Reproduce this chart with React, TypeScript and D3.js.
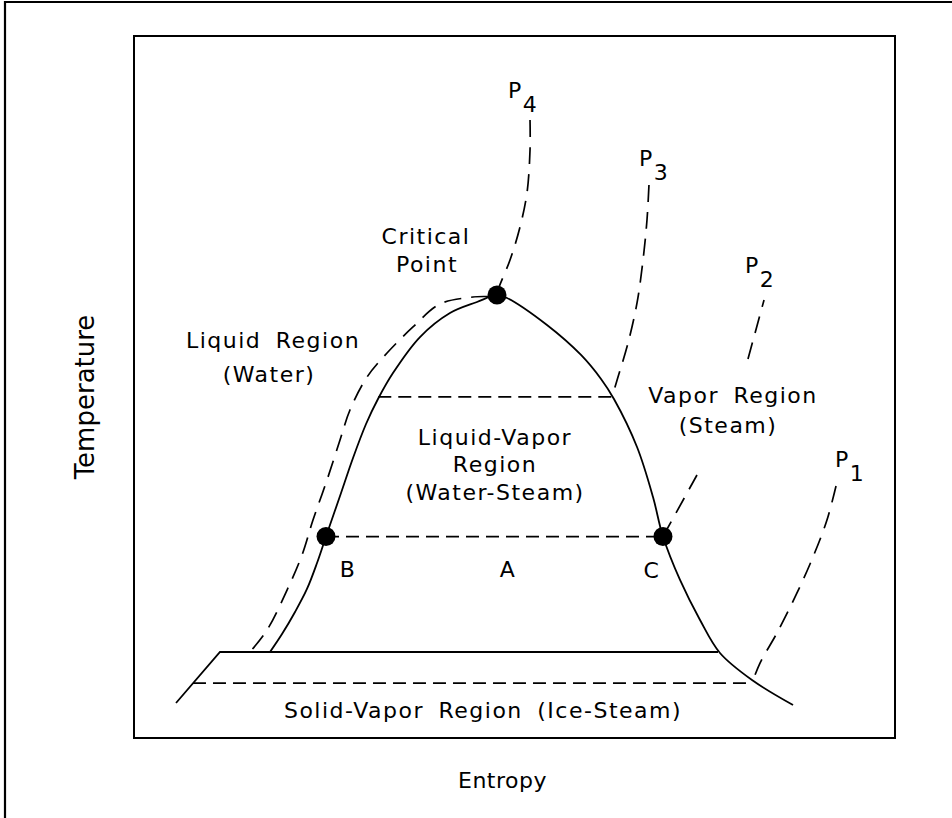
import * as d3 from "d3";

// entropy (s) / temperature (T) in arbitrary diagram units, 0..10
const satLiquid: [number, number][] = [
  [1.787, 1.225], [1.945, 1.481], [2.116, 1.795], [2.273, 2.123], [2.405, 2.493],
  [2.523, 2.87], [2.707, 3.447], [2.878, 3.989], [3.049, 4.473], [3.206, 4.829],
  [3.403, 5.199], [3.758, 5.712], [4.152, 6.054], [4.507, 6.211], [4.77, 6.311],
];
const satVapor: [number, number][] = [
  [4.77, 6.311], [4.901, 6.268], [5.427, 5.883], [5.874, 5.456], [6.137, 5.114],
  [6.307, 4.829], [6.61, 4.145], [6.82, 3.433], [6.951, 2.87], [7.175, 2.251],
  [7.438, 1.681], [7.7, 1.211], [8.121, 0.826], [8.66, 0.47],
];
const p4Line: [number, number][] = [
  [5.204, 8.803], [5.204, 8.376], [5.164, 7.764], [5.072, 7.279], [4.941, 6.809],
  [4.783, 6.382], [4.77, 6.311], [4.455, 6.282], [4.021, 6.182], [3.666, 5.855],
  [3.325, 5.484], [3.062, 5.142], [2.838, 4.672], [2.707, 4.245], [2.536, 3.675],
  [2.352, 3.105], [2.208, 2.607], [2.011, 2.108], [1.748, 1.538], [1.524, 1.225],
];
const p3Line: [number, number][] = [
  [6.767, 7.877], [6.741, 7.379], [6.689, 6.809], [6.61, 6.197], [6.492, 5.627],
  [6.36, 5.142], [6.281, 4.858],
];
const p2Lower: [number, number][] = [[6.951, 2.87], [7.398, 3.746]];
const p2Upper: [number, number][] = [[8.068, 5.399], [8.279, 6.239]];
const p1Line: [number, number][] = [
  [9.225, 3.59], [9.106, 3.105], [8.922, 2.578], [8.712, 2.066], [8.449, 1.496],
  [8.226, 1.068], [8.121, 0.783],
];
const tieLines = [
  { t: 4.858, s0: 3.21, s1: 6.281 },
  { t: 2.87, s0: 2.523, s1: 6.951 },
  { t: 0.783, s0: 0.775, s1: 8.121 },
];
const iceLine: [number, number][] = [[0.552, 0.499], [1.13, 1.225], [7.674, 1.225]];
const statePoints = [
  { id: "critical", s: 4.77, t: 6.311 },
  { id: "B", s: 2.523, t: 2.87 },
  { id: "C", s: 6.951, t: 2.87 },
];
const isobarLabels = [
  { sub: "4", s: 4.915, t: 9.117 },
  { sub: "3", s: 6.636, t: 8.148 },
  { sub: "2", s: 8.029, t: 6.624 },
  { sub: "1", s: 9.212, t: 3.86 },
];
const regionLabels = [
  { text: "Critical", s: 3.837, t: 7.037 },
  { text: "Point", s: 3.85, t: 6.638 },
  { text: "Liquid Region", s: 1.827, t: 5.556 },
  { text: "(Water)", s: 1.774, t: 5.071 },
  { text: "Liquid-Vapor", s: 4.744, t: 4.174 },
  { text: "Region", s: 4.744, t: 3.789 },
  { text: "(Water-Steam)", s: 4.744, t: 3.39 },
  { text: "Vapor Region", s: 7.871, t: 4.772 },
  { text: "(Steam)", s: 7.806, t: 4.345 },
  { text: "B", s: 2.812, t: 2.293 },
  { text: "A", s: 4.915, t: 2.293 },
  { text: "C", s: 6.807, t: 2.279 },
  { text: "Solid-Vapor Region (Ice-Steam)", s: 4.586, t: 0.285 },
];

const W = 952;
const H = 818;
const m = { left: 134, top: 36, right: 57, bottom: 80 };
const font = "'DejaVu Sans', sans-serif";

export default function App() {
  const x = d3.scaleLinear().domain([0, 10]).range([m.left, W - m.right]);
  const y = d3.scaleLinear().domain([0, 10]).range([H - m.bottom, m.top]);

  const curve = d3
    .line<[number, number]>()
    .x(d => x(d[0]))
    .y(d => y(d[1]))
    .curve(d3.curveCatmullRom.alpha(0.5));
  const straight = d3
    .line<[number, number]>()
    .x(d => x(d[0]))
    .y(d => y(d[1]));

  const dome = satLiquid.concat(satVapor.slice(1));
  const isobars = [p4Line, p3Line, p1Line];

  return (
    <svg
      width={W}
      height={H}
      viewBox={`0 0 ${W} ${H}`}
      style={{ position: "absolute", left: 0, top: 0, background: "#fff" }}
    >
      {/* page frame */}
      <path d={`M5,${H} V2 H${W}`} fill="none" stroke="#000" strokeWidth={2.2} />
      {/* plot box */}
      <rect
        x={m.left}
        y={m.top}
        width={W - m.left - m.right}
        height={H - m.top - m.bottom}
        fill="none"
        stroke="#000"
        strokeWidth={2}
      />

      <g fill="none" stroke="#000" strokeWidth={1.8}>
        <path d={curve(dome) ?? ""} />
        <path d={straight(iceLine) ?? ""} />
      </g>

      <g fill="none" stroke="#000" strokeWidth={1.7} strokeDasharray="13,7">
        {tieLines.map((d, i) => (
          <line key={i} x1={x(d.s0)} x2={x(d.s1)} y1={y(d.t)} y2={y(d.t)} />
        ))}
      </g>
      <g fill="none" stroke="#000" strokeWidth={1.7} strokeDasharray="17,10">
        {isobars.map((d, i) => (
          <path key={i} d={curve(d) ?? ""} />
        ))}
        <path d={straight(p2Lower) ?? ""} />
        <path d={straight(p2Upper) ?? ""} />
      </g>

      {statePoints.map(d => (
        <circle key={d.id} cx={x(d.s)} cy={y(d.t)} r={9.5} fill="#000" />
      ))}

      <g fontFamily={font} fontSize={22} letterSpacing={1.5} wordSpacing={6} fill="#000">
        {regionLabels.map(d => (
          <text key={d.text} x={x(d.s)} y={y(d.t)} textAnchor="middle">
            {d.text}
          </text>
        ))}
        {isobarLabels.map(d => (
          <text key={d.sub} x={x(d.s)} y={y(d.t)}>
            P
            <tspan dy={14}>{d.sub}</tspan>
          </text>
        ))}
        <text x={(m.left + W - m.right) / 2 - 12} y={788} textAnchor="middle" letterSpacing={0.5}>
          Entropy
        </text>
      </g>
      <text
        transform={`translate(94,${(m.top + H - m.bottom) / 2 + 10}) rotate(-90)`}
        textAnchor="middle"
        fontFamily={font}
        fontSize={26}
        fill="#000"
      >
        Temperature
      </text>
    </svg>
  );
}
